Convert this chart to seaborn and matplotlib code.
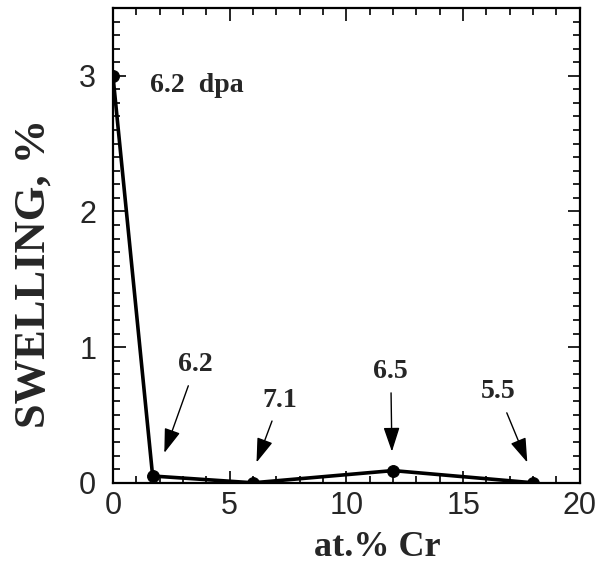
import matplotlib
matplotlib.use("Agg")
import matplotlib.pyplot as plt
from matplotlib.ticker import MultipleLocator
import seaborn as sns
import pandas as pd

# swelling vs chromium content
cr_content = [0, 1.7, 6, 12, 18]
swelling = [3.0, 0.05, 0.0, 0.09, 0.0]
dose_labels = ["6.2  dpa", "6.2", "7.1", "6.5", "5.5"]

df = pd.DataFrame({"cr": cr_content, "swelling": swelling})

sns.set_style("ticks")
plt.rcParams['font.family'] = ['Liberation Sans', 'DejaVu Sans']

fig = plt.figure(figsize=(6.04, 5.68), dpi=100)
ax = fig.add_axes([0.187, 0.150, 0.773, 0.836])

sns.lineplot(data=df, x="cr", y="swelling", ax=ax, color="black",
             linewidth=2.6, marker="o", markersize=8.5, markeredgecolor="black")

ax.set_xlim(0, 20)
ax.set_ylim(0, 3.5)
ax.xaxis.set_major_locator(MultipleLocator(5))
ax.xaxis.set_minor_locator(MultipleLocator(1))
ax.yaxis.set_major_locator(MultipleLocator(1))
ax.yaxis.set_minor_locator(MultipleLocator(0.1))
ax.tick_params(which="both", direction="in", top=True, right=True, width=1.2, color="black")
ax.tick_params(which="major", length=9, labelsize=22)
ax.tick_params(which="minor", length=5)
ax.tick_params(axis="y", pad=12)
ax.tick_params(axis="x", pad=6)
for s in ax.spines.values():
    s.set_linewidth(1.6)
    s.set_color("black")

serif = dict(family=["Liberation Serif", "DejaVu Serif"], fontweight="bold")
ax.set_xlabel("at.% Cr", fontsize=26, **serif)
ax.set_ylabel("SWELLING, %", fontsize=32, **serif)
ax.xaxis.set_label_coords(0.567, -0.102)
ax.yaxis.set_label_coords(-0.128, 0.44)

# dose annotations
ax.text(1.6, 2.93, dose_labels[0], fontsize=20, va="center", ha="left", **serif)
arrow = dict(arrowstyle="-|>,head_length=0.75,head_width=0.25", color="black", lw=1.0,
             shrinkA=4, shrinkB=0)
ax.annotate(dose_labels[1], xy=(2.2, 0.22), xytext=(3.55, 0.87), fontsize=20,
            ha="center", va="center", arrowprops=arrow, **serif)
ax.annotate(dose_labels[2], xy=(6.15, 0.15), xytext=(7.15, 0.61), fontsize=20,
            ha="center", va="center", arrowprops=arrow, **serif)
ax.annotate(dose_labels[3], xy=(11.95, 0.23), xytext=(11.9, 0.82), fontsize=20,
            ha="center", va="center", arrowprops=arrow, **serif)
ax.annotate(dose_labels[4], xy=(17.75, 0.15), xytext=(16.5, 0.67), fontsize=20,
            ha="center", va="center", arrowprops=arrow, **serif)

fig.savefig("out.png", dpi=100)
